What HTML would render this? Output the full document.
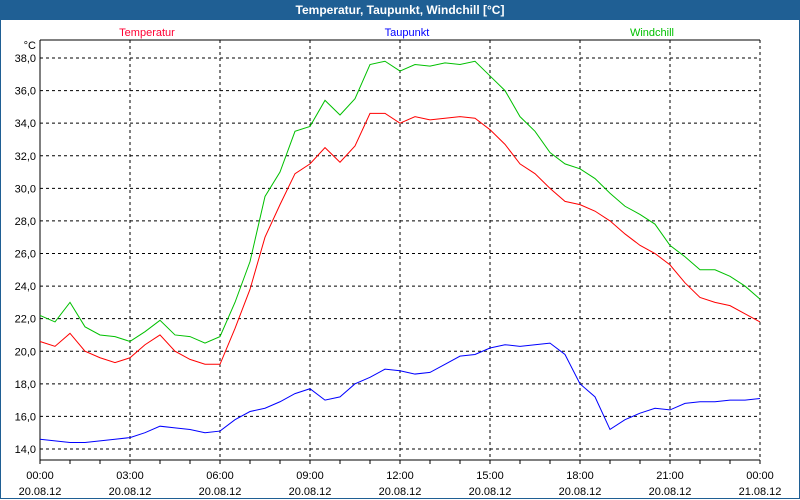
<!DOCTYPE html>
<html><head><meta charset="utf-8"><style>
body{margin:0;width:800px;height:500px;overflow:hidden;background:#fff;font-family:"Liberation Sans",sans-serif}
#title{position:absolute;left:0;top:0;width:800px;height:20px;background:#1f5f94;color:#fff;font-weight:bold;font-size:12px;text-align:center;line-height:20px}
#frame{position:absolute;left:0;top:20px;width:798px;height:478px;border:1px solid #1f5f94;border-top:0}
</style></head><body>
<div id="title">Temperatur, Taupunkt, Windchill [°C]</div>
<div id="frame"></div>
<svg id="chart" width="800" height="500" style="position:absolute;left:0;top:0" font-family="Liberation Sans, sans-serif" font-size="11"></svg>
<script>
const times=["00:00","03:00","06:00","09:00","12:00","15:00","18:00","21:00","00:00"];
const dates=["20.08.12","20.08.12","20.08.12","20.08.12","20.08.12","20.08.12","20.08.12","20.08.12","21.08.12"];
const yTicks=[14,16,18,20,22,24,26,28,30,32,34,36,38];
const temperatur=[20.6,20.3,21.1,20.0,19.6,19.3,19.6,20.4,21.0,20.0,19.5,19.2,19.2,21.4,23.8,27.0,29.0,30.9,31.5,32.5,31.6,32.6,34.6,34.6,34.0,34.4,34.2,34.3,34.4,34.3,33.6,32.7,31.5,30.9,30.0,29.2,29.0,28.6,28.0,27.2,26.5,26.0,25.3,24.2,23.3,23.0,22.8,22.3,21.8];
const windchill=[22.2,21.8,23.0,21.5,21.0,20.9,20.6,21.2,21.9,21.0,20.9,20.5,20.9,23.0,25.5,29.5,31.0,33.5,33.8,35.4,34.5,35.5,37.6,37.8,37.2,37.6,37.5,37.7,37.6,37.8,36.9,36.0,34.4,33.5,32.2,31.5,31.2,30.6,29.7,28.9,28.4,27.8,26.5,25.8,25.0,25.0,24.6,24.0,23.2];
const taupunkt=[14.6,14.5,14.4,14.4,14.5,14.6,14.7,15.0,15.4,15.3,15.2,15.0,15.1,15.8,16.3,16.5,16.9,17.4,17.7,17.0,17.2,18.0,18.4,18.9,18.8,18.6,18.7,19.2,19.7,19.8,20.2,20.4,20.3,20.4,20.5,19.8,18.0,17.2,15.2,15.8,16.2,16.5,16.4,16.8,16.9,16.9,17.0,17.0,17.1];
const svg=document.getElementById('chart');const NS='http://www.w3.org/2000/svg';
const L=40,R=760,T=40,B=460;
const x=h=>L+(R-L)*h/24;
const y=v=>449-(v-14)*(449-58)/24;
function mk(t,a,p){const e=document.createElementNS(NS,t);for(const k in a)e.setAttribute(k,a[k]);(p||svg).appendChild(e);return e;}
yTicks.forEach(v=>{
 const g=mk('line',{x1:L,x2:R,y1:y(v),y2:y(v),stroke:'#000','stroke-dasharray':'3,3'});
 
 
 const t=mk('text',{x:36,y:y(v)+4,'text-anchor':'end'});t.textContent=v.toFixed(1).replace('.',',');
 
 
});
for(let h=0;h<=24;h++){
 const tk=mk('line',{x1:x(h),x2:x(h),y1:B,y2:B+4,stroke:'#000'});
 
 
}
times.forEach((s,i)=>{
 const h=i*3;
 if(i>0){const g=mk('line',{x1:x(h),x2:x(h),y1:T,y2:B,stroke:'#000','stroke-dasharray':'3,3'});
 
 }
 const t=mk('text',{x:x(h),y:479,'text-anchor':'middle'});t.textContent=s;
 
 
 const d=mk('text',{x:x(h),y:495,'text-anchor':'middle'});d.textContent=dates[i];
 
 
});
const ax=mk('path',{d:`M${L},${T}H${R}M${L},${T}V${B}H${R}`,stroke:'#000',fill:'none'});


const u=mk('text',{x:36,y:49,'text-anchor':'end'});u.textContent='°C';


function series(arr,col,name){
 const p=mk('polyline',{points:arr.map((v,i)=>x(i*0.5)+','+y(v)).join(' '),fill:'none',stroke:col,'stroke-width':1});
 
 
}
series(taupunkt,'#0000ff','taupunkt-line');
series(temperatur,'#ff0000','temperatur-line');
series(windchill,'#00c000','windchill-line');
[['Temperatur','#ff0033',147],['Taupunkt','#0000ff',407],['Windchill','#00c000',652]].forEach(a=>{
 const t=mk('text',{x:a[2],y:36,'text-anchor':'middle',fill:a[1]});t.textContent=a[0];
 
 
});
</script>
</body></html>
